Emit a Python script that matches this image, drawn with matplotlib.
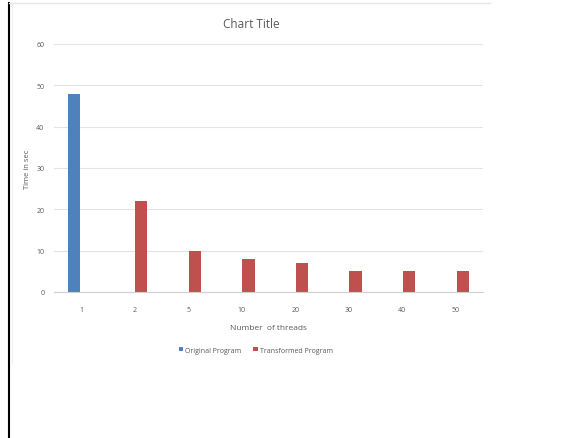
import numpy as np
import matplotlib
matplotlib.use("Agg")
import matplotlib.pyplot as plt
from matplotlib.lines import Line2D

# DATA

threads = ["1", "2", "5", "10", "20", "30", "40", "50"]
original = [48, 0, 0, 0, 0, 0, 0, 0]
transformed = [0, 22, 10, 8, 7, 5, 5, 5]

blue = "#4F81BD"
red = "#C0504D"
grey_text = "#595959"

plt.rcParams["font.family"] = ["Open Sans", "DejaVu Sans"]

fig = plt.figure(figsize=(5.62, 4.39), dpi=100)
ax = fig.add_axes([0.0965, 0.3326, 0.7625, 0.5649])

x = np.arange(len(threads))
w = 0.23

ax.bar(x - w / 2 - 0.01, original, width=w, color=blue, label="Original Program")
ax.bar(x + w / 2 + 0.01, transformed, width=w, color=red, label="Transformed Program")

ax.set_xlim(-0.5, len(threads) - 0.5)
ax.set_ylim(0, 60)
ax.set_yticks(range(0, 61, 10))
ax.set_xticks(x)
ax.set_xticklabels(threads)

ax.grid(axis="y", color="#E3E3E3", linewidth=0.8)
ax.set_axisbelow(True)
for side in ["top", "right", "left"]:
    ax.spines[side].set_visible(False)
ax.spines["bottom"].set_color("#D0D0D0")
ax.tick_params(axis="x", length=0, labelsize=5, colors=grey_text, pad=10)
ax.tick_params(axis="y", length=0, labelsize=5, colors=grey_text, pad=7)

fig.text(0.447, 0.945, "Chart Title", fontsize=8.5, color=grey_text, ha="center", va="center")
ax.set_ylabel("Time in sec", fontsize=5.5, color=grey_text, labelpad=4)
ax.set_xlabel("Number  of threads", fontsize=6, color=grey_text, labelpad=8)

ax.legend(loc="upper center", bbox_to_anchor=(0.47, -0.195), ncol=2, frameon=False,
          fontsize=5, labelcolor=grey_text, handlelength=0.6, handleheight=0.6,
          handletextpad=0.3, columnspacing=1.8)

# screenshot frame
fig.add_artist(Line2D([0.0155, 0.0155], [0.0, 0.99], color="black", linewidth=1.5))
fig.add_artist(Line2D([0.0155, 0.872], [0.99, 0.99], color="#E6E6E6", linewidth=1))
fig.add_artist(Line2D([0.021, 0.021], [0.17, 0.99], color="#F0F0F0", linewidth=0.8))

fig.savefig("out.png", dpi=100)
